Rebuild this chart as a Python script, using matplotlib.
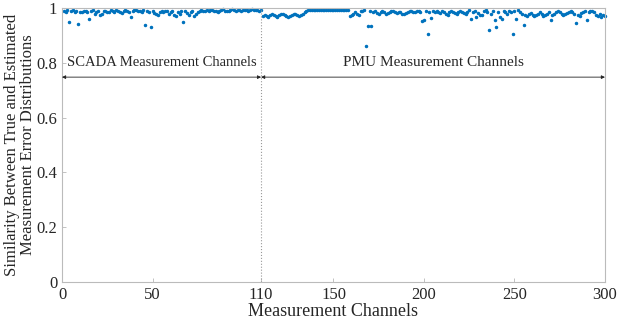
import numpy as np
import matplotlib
matplotlib.use("Agg")
import matplotlib.pyplot as plt

plt.rcParams['font.family'] = ['Liberation Serif', 'DejaVu Serif']

# similarity for SCADA channels 1-110
scada = [0.99, 0.985, 0.992, 0.95, 0.988, 0.993, 0.987, 0.99, 0.942, 0.986,
         0.984, 0.99, 0.988, 0.985, 0.96, 0.99, 0.992, 0.978, 0.985, 0.99,
         0.974, 0.98, 0.988, 0.99, 0.984, 0.986, 0.993, 0.99, 0.987, 0.992,
         0.99, 0.985, 0.981, 0.988, 0.992, 0.99, 0.986, 0.967, 0.99, 0.993,
         0.992, 0.99, 0.988, 0.986, 0.993, 0.938, 0.99, 0.985, 0.931, 0.988,
         0.983, 0.98, 0.976, 0.986, 0.99, 0.984, 0.988, 0.99, 0.98, 0.985,
         0.988, 0.975, 0.971, 0.984, 0.98, 0.988, 0.949, 0.99, 0.982, 0.975,
         0.985, 0.99, 0.971, 0.978, 0.985, 0.99, 0.992, 0.99, 0.988, 0.993,
         0.99, 0.992, 0.994, 0.99, 0.988, 0.985, 0.99, 0.993, 0.995, 0.99,
         0.988, 0.99, 0.993, 0.995, 0.992, 0.99, 0.994, 0.993, 0.99, 0.992,
         0.994, 0.993, 0.99, 0.992, 0.995, 0.993, 0.992, 0.994, 0.99, 0.993]

# similarity for PMU channels 111-300
pmu = [0.972, 0.975, 0.97, 0.968, 0.974, 0.978, 0.976, 0.972, 0.969, 0.975,
       0.98, 0.978, 0.974, 0.97, 0.967, 0.972, 0.976, 0.98, 0.978, 0.974,
       0.97, 0.976, 0.98, 0.984, 0.988, 0.992, 0.993, 0.992, 0.993, 0.994,
       0.993, 0.992, 0.994, 0.993, 0.992, 0.993, 0.994, 0.993, 0.992, 0.993,
       0.994, 0.993, 0.992, 0.993, 0.994, 0.993, 0.992, 0.993, 0.97, 0.975,
       0.978, 0.985, 0.98, 0.975, 0.99, 0.988, 0.992, 0.862, 0.934, 0.99,
       0.934, 0.985, 0.99, 0.982, 0.978, 0.984, 0.988, 0.985, 0.98, 0.982,
       0.986, 0.99, 0.988, 0.985, 0.982, 0.986, 0.984, 0.98, 0.978, 0.982,
       0.985, 0.988, 0.99, 0.986, 0.984, 0.988, 0.99, 0.985, 0.953, 0.958,
       0.99, 0.905, 0.985, 0.964, 0.988, 0.986, 0.99, 0.985, 0.982, 0.988,
       0.985, 0.98, 0.976, 0.984, 0.99, 0.986, 0.982, 0.978, 0.985, 0.99,
       0.987, 0.982, 0.978, 0.985, 0.992, 0.96, 0.985, 0.99, 0.967, 0.982,
       0.975, 0.974, 0.988, 0.992, 0.985, 0.92, 0.98, 0.99, 0.956, 0.931,
       0.985, 0.967, 0.96, 0.99, 0.985, 0.978, 0.988, 0.985, 0.905, 0.99,
       0.96, 0.992, 0.985, 0.98, 0.938, 0.975, 0.972, 0.978, 0.982, 0.976,
       0.97, 0.975, 0.98, 0.984, 0.978, 0.972, 0.976, 0.98, 0.985, 0.956,
       0.975, 0.98, 0.984, 0.988, 0.985, 0.98, 0.975, 0.978, 0.982, 0.985,
       0.988, 0.984, 0.98, 0.945, 0.975, 0.97, 0.982, 0.985, 0.99, 0.956,
       0.985, 0.99, 0.988, 0.984, 0.975, 0.972, 0.978, 0.967, 0.975, 0.97]

sim = scada + pmu
ch = np.arange(1, len(sim) + 1)
split = len(scada)
xticks = [0, 50, 110, 150, 200, 250, 300]
yticks = [0, 0.2, 0.4, 0.6, 0.8, 1]

fig = plt.figure(figsize=(6.17, 3.24), dpi=100)
ax = fig.add_axes([0.1005, 0.1296, 0.88, 0.8454])

ax.plot(ch, sim, '.', color='#0072BD', markersize=3, clip_on=False)
ax.axvline(split, color='#999999', linestyle=':', linewidth=0.8)

# double arrows for the two groups
ax.annotate('', xy=(0, 0.748), xytext=(split, 0.748),
            arrowprops=dict(arrowstyle='<|-|>', color='#222222', lw=0.6,
                            mutation_scale=5, shrinkA=0, shrinkB=0))
ax.annotate('', xy=(split, 0.748), xytext=(300, 0.748),
            arrowprops=dict(arrowstyle='<|-|>', color='#222222', lw=0.6,
                            mutation_scale=5, shrinkA=0, shrinkB=0))
ax.text(split / 2, 0.8, 'SCADA Measurement Channels', ha='center', va='center',
        fontsize=10.5, color='#262626')
ax.text((split + 300) / 2, 0.8, 'PMU Measurement Channels', ha='center', va='center',
        fontsize=11, color='#262626')

ax.set_xlim(0, 300)
ax.set_ylim(0, 1)
ax.set_xticks(xticks)
ax.set_yticks(yticks)
ax.set_yticklabels(['0', '0.2', '0.4', '0.6', '0.8', '1'])
ax.tick_params(direction='in', length=3, width=0.5, color='#aaaaaa',
               labelsize=12, labelcolor='#262626', top=False, right=False)
for s in ax.spines.values():
    s.set_color('#bbbbbb')
    s.set_linewidth(0.8)

ax.set_xlabel('Measurement Channels', fontsize=13, color='#262626', labelpad=0)
ax.set_ylabel('Similarity Between True and Estimated\nMeasurement Error Distributions',
              fontsize=12, color='#262626', labelpad=0, linespacing=1.0)

fig.savefig('out.png', dpi=100)
